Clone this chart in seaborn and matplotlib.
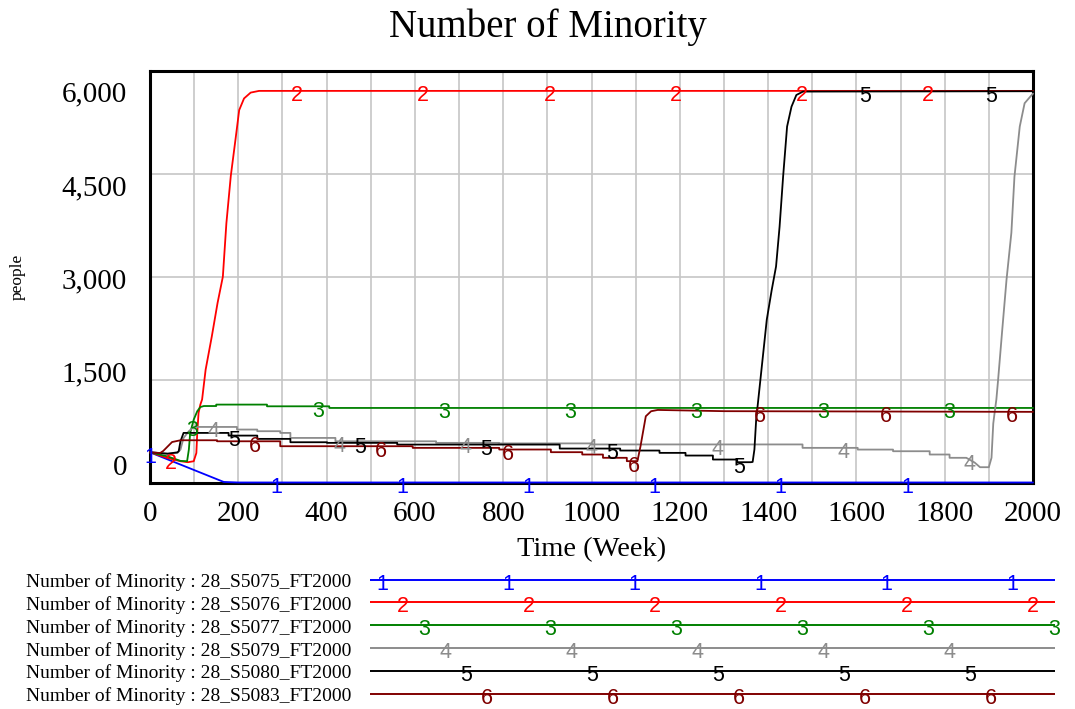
import numpy as np
import pandas as pd
import seaborn as sns
import matplotlib
matplotlib.use("Agg")
import matplotlib.pyplot as plt
from matplotlib.transforms import ScaledTranslation

# ---- simulation output: Number of Minority (people) by week, one array pair per run ----
weeks_5075 = [0, 167, 200, 2000]
minority_5075 = [440, 8, 0, 0]

weeks_5076 = [0, 38, 69, 86, 99, 105, 107, 110, 114, 118, 126, 140, 153, 165,
              173, 183, 194, 202, 213, 228, 247, 2000]
minority_5076 = [440, 360, 310, 296, 310, 430, 720, 1015, 1135, 1210, 1645, 2130,
                 2617, 3000, 3780, 4470, 5020, 5430, 5600, 5685, 5710, 5710]

weeks_5077 = [0, 40, 69, 84, 88, 91, 99, 107, 114, 122, 150, 150, 265, 265,
              406, 406, 2000]
minority_5077 = [440, 380, 315, 310, 480, 723, 917, 1039, 1100, 1115, 1115, 1136,
                 1136, 1111, 1111, 1087, 1087]

weeks_5079 = [0, 40, 62, 69, 76, 88, 99, 197, 197, 243, 243, 295, 295, 318, 318,
              420, 420, 648, 648, 790, 790, 1000, 1000, 1478, 1478, 1603, 1603,
              1683, 1683, 1766, 1766, 1811, 1811, 1849, 1868, 1880, 1900, 1906,
              1910, 1913, 1917, 1921, 1930, 1940, 1951, 1958, 1970, 1981, 1993, 2000]
minority_5079 = [440, 420, 430, 480, 650, 748, 810, 810, 772, 772, 748, 748, 723,
                 723, 650, 650, 601, 601, 578, 578, 570, 570, 555, 555, 505, 505,
                 480, 480, 456, 456, 408, 408, 360, 360, 290, 223, 223, 360, 860,
                 1015, 1209, 1500, 2200, 2956, 3640, 4460, 5190, 5530, 5620, 5670]

weeks_5080 = [0, 40, 62, 65, 69, 76, 178, 178, 243, 243, 318, 318, 401, 401, 560,
              560, 928, 928, 1065, 1065, 1154, 1154, 1213, 1213, 1275, 1275, 1330,
              1330, 1361, 1365, 1369, 1373, 1385, 1397, 1408, 1418, 1426, 1434, 1443,
              1453, 1464, 1479, 2000]
minority_5080 = [440, 420, 440, 456, 600, 723, 723, 684, 684, 636, 636, 587, 587,
                 578, 578, 553, 553, 495, 495, 466, 466, 432, 432, 393, 393, 335,
                 335, 296, 296, 300, 481, 918, 1646, 2374, 2800, 3150, 3730, 4460,
                 5190, 5480, 5650, 5700, 5705]

weeks_5083 = [0, 23, 30, 50, 61, 69, 152, 152, 295, 295, 595, 595, 791, 791, 908,
              908, 979, 979, 1026, 1026, 1080, 1080, 1104, 1111, 1115, 1119, 1123,
              1135, 1150, 1300, 2000]
minority_5083 = [440, 430, 460, 590, 605, 616, 616, 601, 601, 529, 529, 505, 505,
                 481, 481, 442, 442, 408, 408, 360, 360, 311, 311, 529, 675, 820,
                 966, 1039, 1058, 1040, 1030]

run_names = ["28_S5075_FT2000", "28_S5076_FT2000", "28_S5077_FT2000",
             "28_S5079_FT2000", "28_S5080_FT2000", "28_S5083_FT2000"]
run_colors = ["#0000ff", "#ff0000", "#008000", "#8c8c8c", "#000000", "#800000"]
run_weeks = [weeks_5075, weeks_5076, weeks_5077, weeks_5079, weeks_5080, weeks_5083]
run_values = [minority_5075, minority_5076, minority_5077, minority_5079,
              minority_5080, minority_5083]

x_ticks = list(range(0, 2001, 200))
x_minor = list(range(0, 2001, 100))
y_ticks = [0, 1500, 3000, 4500, 6000]
y_tick_labels = ["0", "1,500", "3,000", "4,500", "6,000"]

frames = []
for name, w, v in zip(run_names, run_weeks, run_values):
    frames.append(pd.DataFrame({"Week": w, "People": v, "run": name}))
df = pd.concat(frames, ignore_index=True)

sns.set_theme(style="white")
plt.rcParams["font.family"] = ["Liberation Serif", "DejaVu Serif"]
plt.rcParams["text.color"] = "black"
plt.rcParams["axes.labelcolor"] = "black"
plt.rcParams["xtick.color"] = "black"
plt.rcParams["ytick.color"] = "black"

W, H = 1075, 709
fig = plt.figure(figsize=(W / 100, H / 100), dpi=100)
fig.patch.set_facecolor("white")

ax_left, ax_top, ax_right, ax_bottom = 150, 71, 1033, 482.5
ax = fig.add_axes([ax_left / W, 1 - ax_bottom / H,
                   (ax_right - ax_left) / W, (ax_bottom - ax_top) / H])
ax.set_facecolor("white")

for name, color in zip(run_names, run_colors):
    sns.lineplot(data=df[df["run"] == name], x="Week", y="People", color=color,
                 lw=1.3, estimator=None, sort=False, ax=ax, legend=False,
                 clip_on=False, zorder=3)

ax.set_xlim(0, 2000)
ax.set_ylim(0, 6000)
ax.set_xticks(x_ticks)
ax.set_xticklabels([str(t) for t in x_ticks])
ax.set_xticks(x_minor, minor=True)
ax.set_yticks(y_ticks)
ax.set_yticklabels(y_tick_labels)
ax.grid(axis="x", which="both", color="#c6c6c6", lw=1.2)
ax.grid(axis="y", which="major", color="#c6c6c6", lw=1.2)
ax.set_axisbelow(True)
ax.tick_params(which="both", length=0)
ax.tick_params(axis="x", pad=13, labelsize=21, labelcolor="black")
ax.tick_params(axis="y", pad=16.5, labelsize=21, labelcolor="black")
for s in ax.spines.values():
    s.set_visible(True)
    s.set_color("black")
    s.set_linewidth(2.2)
    s.set_zorder(2.5)

# value labels sit evenly between the frame edges, inset from the top/bottom gridlines
span_px = ax_bottom - ax_top
for lab, val in zip(ax.get_yticklabels(), y_ticks):
    dy = 17.5 - 38.2 * val / 6000
    lab.set_transform(lab.get_transform() + ScaledTranslation(0, dy / 100, fig.dpi_scale_trans))

ax.set_xlabel("Time (Week)", fontsize=20.5, color="black")
ax.xaxis.set_label_coords(0.5, (ax_bottom - 556) / span_px)
ax.xaxis.label.set_va("baseline")
ax.set_ylabel("people", fontsize=12.5, color="black")
ax.yaxis.set_label_coords((18 - ax_left) / (ax_right - ax_left), 0.5)
ax.yaxis.label.set_va("center")

fig.text(548 / W, 1 - 36.7 / H, "Number of Minority", ha="center", va="baseline",
         fontsize=28, color="black")

# run number markers along each curve
period = 2000 / 7
digit_shift = ScaledTranslation(0, -10.5 / 100, fig.dpi_scale_trans)
for i, (w, v, color) in enumerate(zip(run_weeks, run_values, run_colors)):
    for t in np.arange(i * period / 6, 2000 - 1e-6, period):
        ax.text(t, np.interp(t, w, v), str(i + 1), color=color, ha="center",
                va="baseline", fontsize=15.5, family="Liberation Sans",
                transform=ax.transData + digit_shift, zorder=4)

# legend block below the axes
leg_left, leg_right = 370, 1055
row0, row_gap = 579.5, 22.8
lax = fig.add_axes([leg_left / W, 1 - (row0 + 5.5 * row_gap) / H,
                    (leg_right - leg_left) / W, 6 * row_gap / H])
lax.axis("off")
leg_w = leg_right - leg_left
text_shift = ScaledTranslation(0, -7.6 / 100, fig.dpi_scale_trans)
leg_digit_shift = ScaledTranslation(0, -10.0 / 100, fig.dpi_scale_trans)
for i, (name, color) in enumerate(zip(run_names, run_colors)):
    sns.lineplot(x=[0, 1], y=[i, i], color=color, lw=1.4, ax=lax, legend=False)
    lax.text(-19 / leg_w, i, f"Number of Minority : {name}", ha="right",
             va="baseline", fontsize=14, color="black",
             transform=lax.transData + text_shift)
    pos = (12 + 21 * i) / leg_w
    while pos <= 1.003:
        lax.text(pos, i, str(i + 1), color=color, ha="center", va="baseline",
                 fontsize=15.5, family="Liberation Sans",
                 transform=lax.transData + leg_digit_shift, clip_on=False)
        pos += 126.0 / leg_w
lax.set_xlim(0, 1)
lax.set_ylim(5.5, -0.5)

fig.savefig("out.png", dpi=100, facecolor="white")
